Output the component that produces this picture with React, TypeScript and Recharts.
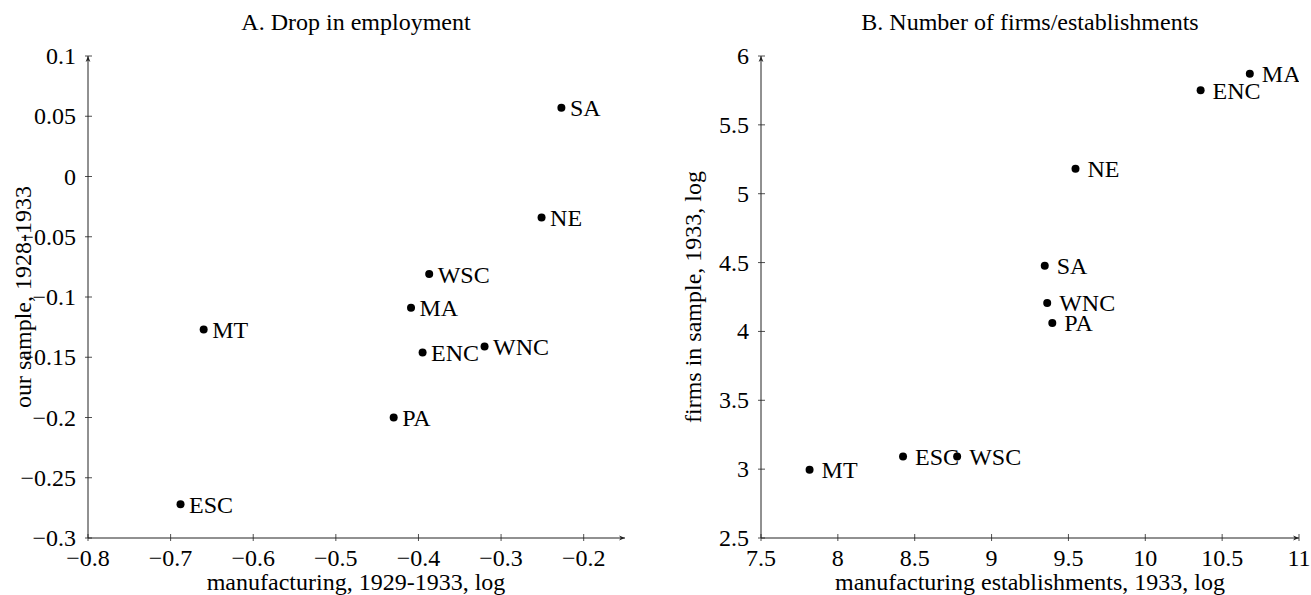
import React from 'react';
import { ScatterChart, Scatter, XAxis, YAxis } from 'recharts';

// Panel A: Drop in employment
const namesA = ['SA', 'NE', 'WSC', 'MA', 'MT', 'ENC', 'WNC', 'PA', 'ESC'];
const xA = [-0.227, -0.251, -0.387, -0.409, -0.66, -0.395, -0.32, -0.43, -0.688];
const yA = [0.057, -0.034, -0.081, -0.109, -0.127, -0.146, -0.141, -0.2, -0.272];
const xTicksA = [-0.8, -0.7, -0.6, -0.5, -0.4, -0.3, -0.2];
const yTicksA = [-0.3, -0.25, -0.2, -0.15, -0.1, -0.05, 0, 0.05, 0.1];

// Panel B: Number of firms/establishments
const namesB = ['MA', 'ENC', 'NE', 'SA', 'WNC', 'PA', 'ESC', 'WSC', 'MT'];
const xB = [10.68, 10.36, 9.546, 9.346, 9.362, 9.395, 8.424, 8.776, 7.816];
const yB = [5.872, 5.751, 5.182, 4.477, 4.207, 4.062, 3.091, 3.091, 2.995];
const xTicksB = [7.5, 8, 8.5, 9, 9.5, 10, 10.5, 11];
const yTicksB = [2.5, 3, 3.5, 4, 4.5, 5, 5.5, 6];

const FONT = '"Liberation Serif", "Times New Roman", serif';
const FS = 24;
const AXIS = '#222';

const fmt = (v: number) => String(v).replace('-', '\u2212');

const dataA = namesA.map((n, i) => ({ name: n, x: xA[i], y: yA[i] }));
const dataB = namesB.map((n, i) => ({ name: n, x: xB[i], y: yB[i] }));

const XTick = (props: any) => {
  const { x, y, payload } = props;
  return (
    <g>
      <line x1={x} x2={x} y1={y - 4} y2={y + 3} stroke={AXIS} strokeWidth={0.8} />
      <text x={x} y={y + 27.5} textAnchor="middle" fontSize={FS} fontFamily={FONT} fill="#000">
        {fmt(payload.value)}
      </text>
    </g>
  );
};

const YTick = (props: any) => {
  const { x, y, payload } = props;
  return (
    <g>
      <line x1={x - 3} x2={x + 4} y1={y} y2={y} stroke={AXIS} strokeWidth={0.8} />
      <text x={x - 12} y={y + 8} textAnchor="end" fontSize={FS} fontFamily={FONT} fill="#000">
        {fmt(payload.value)}
      </text>
    </g>
  );
};

const makeShape = (gap: number) => (props: any) => {
  const { cx, cy, payload } = props;
  return (
    <g>
      <circle cx={cx} cy={cy} r={4} fill="#000" />
      <text x={cx + gap} y={cy + 8.5} fontSize={FS} fontFamily={FONT} fill="#000">
        {payload.name}
      </text>
    </g>
  );
};

const xAxisLine = { stroke: AXIS, strokeWidth: 1, markerEnd: 'url(#arrowEnd)' };
const yAxisLine = { stroke: AXIS, strokeWidth: 1, markerStart: 'url(#arrowStart)' };

export default function App() {
  return (
    <div style={{ position: 'absolute', left: 0, top: 0, width: 1311, height: 595, background: '#fff' }}>
      <svg width={0} height={0} style={{ position: 'absolute' }}>
        <defs>
          <marker id="arrowEnd" viewBox="0 0 10 10" refX={10} refY={5} markerWidth={6} markerHeight={6} orient="auto" markerUnits="userSpaceOnUse">
            <path d="M0,1 L10,5 L0,9 L3,5 Z" fill={AXIS} />
          </marker>
          <marker id="arrowStart" viewBox="0 0 10 10" refX={10} refY={5} markerWidth={6} markerHeight={6} orient="auto-start-reverse" markerUnits="userSpaceOnUse">
            <path d="M0,1 L10,5 L0,9 L3,5 Z" fill={AXIS} />
          </marker>
        </defs>
      </svg>

      <div style={{ position: 'absolute', left: 0, top: 0 }}>
        <ScatterChart width={655} height={595} margin={{ top: 56, right: 30, left: 28, bottom: 0 }}>
          <XAxis
            type="number"
            dataKey="x"
            domain={[-0.8, -0.15]}
            ticks={xTicksA}
            allowDataOverflow
            height={57}
            tickSize={0}
            tickMargin={0}
            tickLine={false}
            axisLine={xAxisLine}
            tick={XTick}
            interval={0}
          />
          <YAxis
            type="number"
            dataKey="y"
            domain={[-0.3, 0.1]}
            ticks={yTicksA}
            allowDataOverflow
            width={60}
            tickSize={0}
            tickMargin={0}
            tickLine={false}
            axisLine={yAxisLine}
            tick={YTick}
            interval={0}
          />
          <Scatter data={dataA} isAnimationActive={false} shape={makeShape(8.5)} />
        </ScatterChart>
      </div>

      <div style={{ position: 'absolute', left: 655, top: 0 }}>
        <ScatterChart width={656} height={595} margin={{ top: 56, right: 12, left: 46, bottom: 0 }}>
          <XAxis
            type="number"
            dataKey="x"
            domain={[7.5, 11]}
            ticks={xTicksB}
            allowDataOverflow
            height={57}
            tickSize={0}
            tickMargin={0}
            tickLine={false}
            axisLine={xAxisLine}
            tick={XTick}
            interval={0}
          />
          <YAxis
            type="number"
            dataKey="y"
            domain={[2.5, 6]}
            ticks={yTicksB}
            allowDataOverflow
            width={60}
            tickSize={0}
            tickMargin={0}
            tickLine={false}
            axisLine={yAxisLine}
            tick={YTick}
            interval={0}
          />
          <Scatter data={dataB} isAnimationActive={false} shape={makeShape(12)} />
        </ScatterChart>
      </div>

      <svg width={1311} height={595} style={{ position: 'absolute', left: 0, top: 0, pointerEvents: 'none' }}>
        <g fontFamily={FONT} fontSize={FS} fill="#000">
          <text x={356} y={30} textAnchor="middle">A. Drop in employment</text>
          <text x={1030} y={30} textAnchor="middle">B. Number of firms/establishments</text>
          <text x={356} y={590} textAnchor="middle">manufacturing, 1929-1933, log</text>
          <text x={1030} y={590} textAnchor="middle">manufacturing establishments, 1933, log</text>
          <text transform="translate(31,297) rotate(-90)" textAnchor="middle">our sample, 1928-1933</text>
          <text transform="translate(701,297) rotate(-90)" textAnchor="middle">firms in sample, 1933, log</text>
        </g>
      </svg>
    </div>
  );
}
